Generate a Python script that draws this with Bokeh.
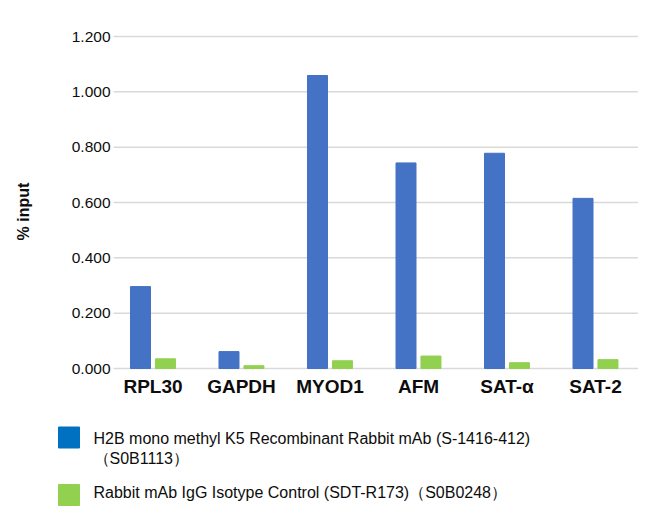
import numpy as np
from bokeh.plotting import figure
from bokeh.models import Range1d
from bokeh.core.properties import value
from bokeh.embed import file_html
from bokeh.resources import INLINE

# values
categories = ["RPL30", "GAPDH", "MYOD1", "AFM", "SAT-\u03b1", "SAT-2"]
h2b_values = [0.296, 0.061, 1.059, 0.743, 0.778, 0.615]
igg_values = [0.035, 0.010, 0.028, 0.045, 0.021, 0.032]
y_ticks = [0.0, 0.2, 0.4, 0.6, 0.8, 1.0, 1.2]
series_labels = [
    "H2B mono methyl K5 Recombinant Rabbit mAb (S-1416-412)\n\uff08S0B1113\uff09",
    "Rabbit mAb IgG Isotype Control (SDT-R173)\uff08S0B0248\uff09",
]
bar_colors = ["#4472C4", "#92D050"]
legend_colors = ["#0070C0", "#92D050"]

FONT = value("Liberation Sans")
TXT = "#0d0d0d"

# canvas and plot-area geometry (pixels)
W, H = 638, 520
LEFT, TOP, BOTTOM = 113, 36, 368
X_LO, X_HI = -0.446, 5.486          # plot area in category units
PX_X = (W - LEFT) / (X_HI - X_LO)
PX_Y = (BOTTOM - TOP) / y_ticks[-1]


def cx(px):
    return X_LO + (px - LEFT) / PX_X


def cy(py):
    return (BOTTOM - py) / PX_Y


x = np.arange(len(categories))

p = figure(width=W, height=H, output_backend="svg", toolbar_location=None,
           x_range=Range1d(cx(0), cx(W)), y_range=Range1d(cy(H), cy(0)),
           x_axis_location=None, y_axis_location=None,
           min_border_left=0, min_border_right=0, min_border_top=0,
           min_border_bottom=0)
p.outline_line_color = None
p.xgrid.grid_line_color = None
p.ygrid.grid_line_color = None

# horizontal gridlines and value labels
p.segment(x0=X_LO, x1=X_HI, y0=y_ticks, y1=y_ticks,
          line_color="#d9d9d9", line_width=1.5)
p.text(x=X_LO, y=y_ticks, text=[f"{t:.3f}" for t in y_ticks], x_offset=-3,
       text_align="right", text_baseline="middle", text_font=FONT,
       text_font_size="15.5px", text_color=TXT)

# bars
p.vbar(x=x - 0.141, top=h2b_values, width=0.226, color=bar_colors[0])
p.vbar(x=x + 0.141, top=igg_values, width=0.226, color=bar_colors[1])

# category labels
p.text(x=x, y=0, text=categories, y_offset=17.5, text_align="center",
       text_baseline="middle", text_font=FONT, text_font_size="19px",
       text_font_style="bold", text_color=TXT)

# axis title
p.text(x=cx(22.5), y=cy(211), text=["% input"], angle=np.pi / 2,
       text_align="center", text_baseline="middle", text_font=FONT,
       text_font_size="16px", text_font_style="bold", text_color=TXT)

# legend
p.rect(x=[cx(68.5)] * 2, y=[cy(437), cy(494.5)], width=21, height=21,
       width_units="screen", height_units="screen", color=legend_colors)
lines = series_labels[0].split("\n") + [series_labels[1]]
p.text(x=[cx(93)] * 3, y=[cy(437.5), cy(457.5), cy(491.5)], text=lines,
       text_align="left", text_baseline="middle", text_font=FONT,
       text_font_size="16px", text_color=TXT)

open("out.html", "w").write(file_html(p, INLINE))
